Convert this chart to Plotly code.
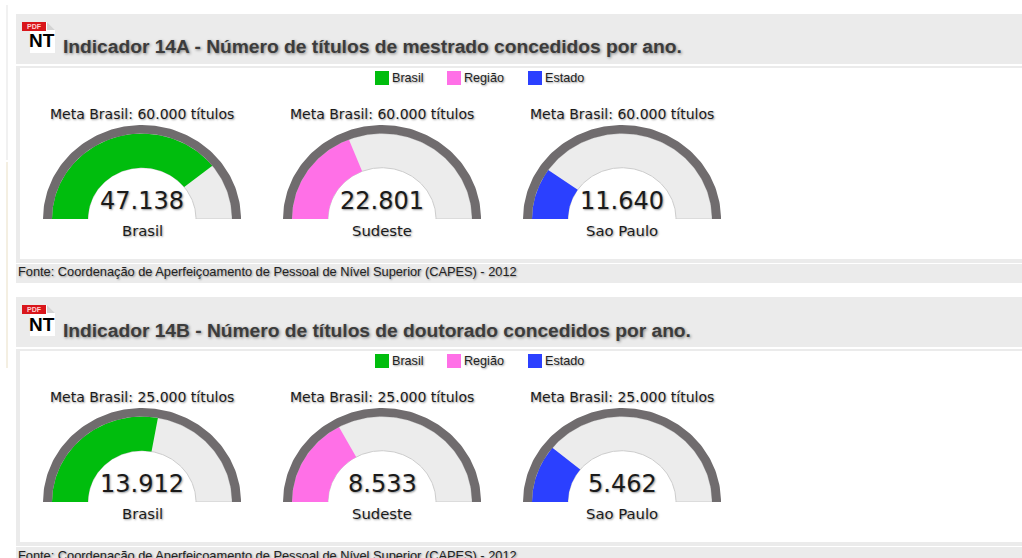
import numpy as np
import plotly.graph_objects as go

W, H = 1022, 558

titles = ["Indicador 14A - Número de títulos de mestrado concedidos por ano.",
          "Indicador 14B - Número de títulos de doutorado concedidos por ano."]
fonte = "Fonte: Coordenação de Aperfeiçoamento de Pessoal de Nível Superior (CAPES) - 2012"
places = ["Brasil", "Sudeste", "Sao Paulo"]
legend_names = ["Brasil", "Região", "Estado"]
colors = ["#00bd0d", "#ff70e7", "#2b40ff"]
metas = [60000, 25000]
meta_labels = ["Meta Brasil: 60.000 títulos", "Meta Brasil: 25.000 títulos"]
mestrado = [47138, 22801, 11640]
doutorado = [13912, 8533, 5462]
series = [mestrado, doutorado]

TOPS = [0, 283]
CX = [142, 382, 622]
R_OUT, R_RING, R_IN = 99, 90, 54
GAUGE_H = 94
SH_T = "1px 1px 3px rgba(0,0,0,0.45)"
SH = "1px 1px 2px rgba(0,0,0,0.4)"

def px(x): return x / W
def py(y): return 1 - y / H

shapes, annos = [], []
def rect(x0, y0, x1, y1, color):
    shapes.append(dict(type="rect", xref="paper", yref="paper", layer="below",
                       x0=px(x0), x1=px(x1), y0=py(y0), y1=py(y1),
                       fillcolor=color, line=dict(width=0)))
def poly(pts, color):
    path = "M " + " L ".join(f"{px(a):.5f},{py(b):.5f}" for a, b in pts) + " Z"
    shapes.append(dict(type="path", xref="paper", yref="paper", layer="below", path=path,
                       fillcolor=color, line=dict(width=0)))
def text(x, y, s, size, color="#1a1a1a", family="DejaVu Sans", anchor="center", shadow=SH, bold=False):
    annos.append(dict(xref="paper", yref="paper", x=px(x), y=py(y), text=f"<b>{s}</b>" if bold else s,
                      showarrow=False, xanchor=anchor, yanchor="middle", borderpad=0, borderwidth=0,
                      font=dict(size=size, color=color, family=family, shadow=shadow)))

def band(frac, r0, r1):
    """Closed half-ring from the left end over frac of the half circle."""
    t = np.linspace(np.pi, np.pi * (1 - frac), 121)
    xs = np.concatenate([r1 * np.cos(t), r0 * np.cos(t[::-1])])
    ys = np.concatenate([r1 * np.sin(t), r0 * np.sin(t[::-1])])
    return np.append(xs, xs[0]), np.append(ys, ys[0])

rect(6, 5, 8, 160, "#f1f1f1")
rect(6, 162, 8, 368, "#f4efe2")

fig = go.Figure()
for g, top in enumerate(TOPS):
    bottom = min(top + 283, H)
    rect(16, top + 14, W, top + 64, "#ebebeb")
    rect(16, top + 66, W, top + 263, "#ebebeb")
    rect(20, top + 68, W, top + 259, "#ffffff")
    rect(16, top + 264, W, bottom, "#ebebeb")
    # icon
    poly([(30, top + 22), (47, top + 22), (55, top + 30), (55, top + 53), (30, top + 53)], "#ffffff")
    poly([(47, top + 22), (55, top + 30), (47, top + 30)], "#d4d4d4")
    rect(22, top + 22, 46, top + 31, "#d9161b")
    text(34, top + 26.5, "PDF", 7, "#ffd0d0", "Liberation Sans", shadow="none", bold=True)
    text(42, top + 41, "NT", 19, "#000000", "Liberation Sans", shadow="none", bold=True)
    text(63, top + 47, titles[g], 19.2, "#3c3c3c", "Liberation Sans", "left", SH_T, True)
    text(17.5, top + 272, fonte, 12.8, "#222222", "Liberation Sans", "left", SH)
    # legend
    for lx, name, c in zip([375, 447, 528], legend_names, colors):
        rect(lx, top + 71, lx + 14, top + 85, c)
        text(lx + 16.5, top + 78, name, 12.6, "#222222", "Liberation Sans", "left", SH)
    for i, cx in enumerate(CX):
        n = g * 3 + i + 1
        xa, ya = f"x{n}", f"y{n}"
        v = series[g][i]
        frac = v / metas[g]
        layers = [(1, R_IN, R_RING, "#ececec", "#cdcdcd", "Meta"),
                  (frac, R_IN, R_RING, colors[i], None, places[i]),
                  (1, R_RING, R_OUT, "#706c6e", None, "Meta")]
        for f, r0, r1, col, edge, name in layers:
            xs, ys = band(f, r0, r1)
            fig.add_trace(go.Scatter(x=xs, y=ys, xaxis=xa, yaxis=ya, mode="lines", fill="toself",
                                     fillcolor=col, name=name, showlegend=False, hoverinfo="skip",
                                     line=dict(width=1 if edge else 0, color=edge or col)))
        y_base = top + 219
        fig.update_layout({
            f"xaxis{n}": dict(domain=[px(cx - R_OUT), px(cx + R_OUT)], range=[-R_OUT, R_OUT], visible=False,
                              anchor=ya, fixedrange=True),
            f"yaxis{n}": dict(domain=[py(y_base), py(y_base - GAUGE_H)], range=[0, R_OUT], visible=False,
                              anchor=xa, fixedrange=True),
        })
        text(cx, top + 114, meta_labels[g], 14)
        text(cx, top + 201, f"{v:,}".replace(",", "."), 24)
        text(cx, top + 230, places[i], 14.8)

fig.update_layout(width=W, height=H, margin=dict(l=0, r=0, t=0, b=0), paper_bgcolor="#ffffff",
                  plot_bgcolor="rgba(0,0,0,0)", shapes=shapes, annotations=annos, showlegend=False)
fig.write_html("out.html", config=dict(displayModeBar=False),
               post_script="document.body.style.margin='0';document.body.style.overflow='hidden';")
